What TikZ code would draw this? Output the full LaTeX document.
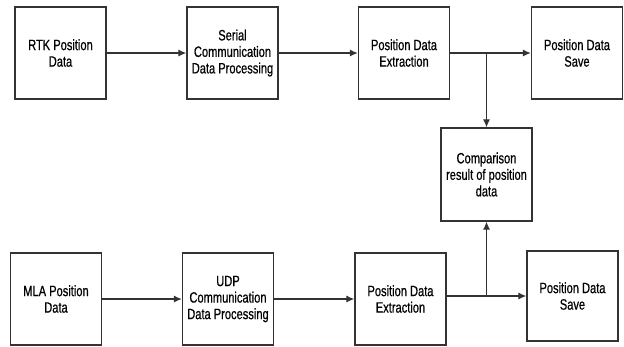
\documentclass[tikz,border=0pt]{standalone}
\usepackage{fontspec}
\setmainfont[FakeStretch=0.74, FakeBold=0.6]{Liberation Sans}
\usepackage{tikz}
\usetikzlibrary{arrows.meta, positioning}

\begin{document}
\begin{tikzpicture}[x=1pt, y=-1pt,
        box/.style={draw=black!80, line width=1.3pt, minimum width=91pt, minimum height=92pt,
            align=center, font=\fontsize{15}{16.5}\selectfont, inner sep=1pt},
        flow/.style={draw=black!80, line width=1.2pt, -{Latex[length=8pt, width=7pt]}}]
        \useasboundingbox (0, 0) rectangle (624, 346);

        \node[box] (rtk) at (60.5, 53) {RTK Position\\Data};
        \node[box] (serial) at (232.5, 53) {Serial\\Communication\\Data Processing};
        \node[box] (ext1) at (404, 53) {Position Data\\Extraction};
        \node[box] (save1) at (577, 53) {Position Data\\Save};
        \node[box, minimum height=93pt] (cmp) at (486.5, 174.5) {Comparison\\result of position\\data};
        \node[box] (mla) at (56, 299) {MLA Position\\Data};
        \node[box] (udp) at (228, 299) {UDP\\Communication\\Data Processing};
        \node[box] (ext2) at (400.5, 299) {Position Data\\Extraction};
        \node[box, minimum height=90pt] (save2) at (572.5, 296) {Position Data\\Save};

        \coordinate (j1) at (cmp.north |- ext1.east);
        \coordinate (j2) at (cmp.south |- save2.west);

        \draw[flow] (rtk) -- (serial);
        \draw[flow] (serial) -- (ext1);
        \draw[flow] (ext1) -- (save1);
        \draw[flow] (j1) -- (cmp);
        \draw[flow] (mla) -- (udp);
        \draw[flow] (udp) -- (ext2);
        \draw[flow] (ext2.east |- save2.west) -- (save2);
        \draw[flow] (j2) -- (cmp);
    \end{tikzpicture}
\end{document}
